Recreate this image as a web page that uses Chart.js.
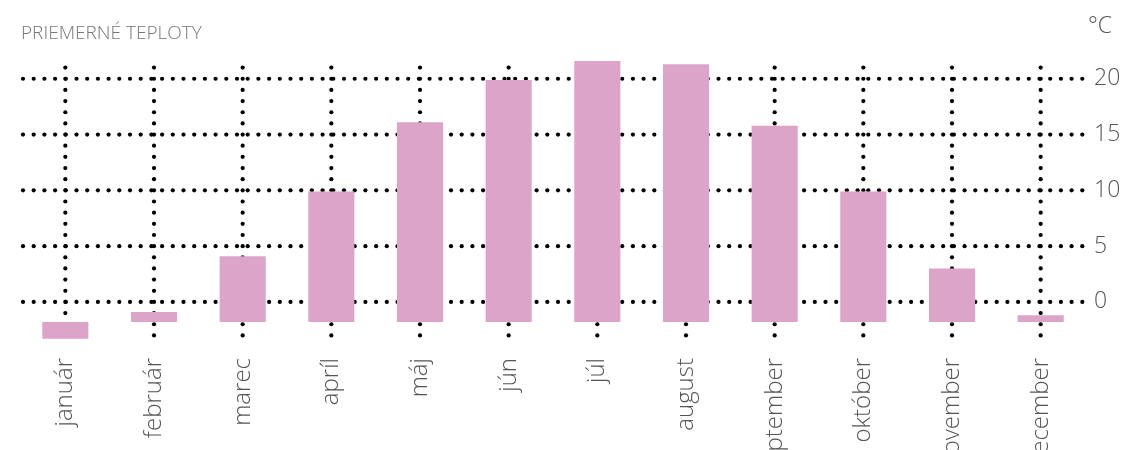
<!DOCTYPE html>
<html>
<head>
<meta charset="utf-8">
<script src="https://cdn.jsdelivr.net/npm/chart.js@4/dist/chart.umd.min.js"></script>
<style>
  body { margin: 0; background: #fff; }
  #wrap { width: 1144px; height: 450px; }
</style>
</head>
<body>
<div id="wrap"><canvas id="tempChart"></canvas></div>
<script>
// Data for the chart
const months = ["január", "február", "marec", "apríl", "máj", "jún", "júl", "august", "september", "október", "november", "december"];
const temps = [-3.3, -0.9, 4.1, 9.9, 16.1, 19.9, 21.6, 21.3, 15.8, 9.9, 3.0, -1.2]; // average °C
const barBase = -1.8; // bars hang from this level
const yTicks = [0, 5, 10, 15, 20];

// dotted grid drawn behind the bars
const dotGrid = {
  id: "dotGrid",
  beforeDatasetsDraw(chart) {
    const { ctx, chartArea: a, scales: { x, y } } = chart;
    ctx.save();
    ctx.fillStyle = "#000";
    const dot = (px, py) => { ctx.beginPath(); ctx.arc(px, py, 2.1, 0, Math.PI * 2); ctx.fill(); };
    yTicks.forEach((v) => {
      const py = y.getPixelForValue(v);
      for (let px = a.left + 2; px <= a.right; px += 10.7) dot(px, py);
    });
    const zero = y.getPixelForValue(0);
    const step = y.getPixelForValue(0) - y.getPixelForValue(1);
    months.forEach((m, i) => {
      const px = x.getPixelForTick(i);
      for (let py = zero; py >= a.top; py -= step) dot(px, py);
      for (let py = zero + step; py <= a.bottom; py += step) dot(px, py);
    });
    ctx.restore();
  },
  afterDraw(chart) {
    const { ctx } = chart;
    ctx.save();
    ctx.fillStyle = "#555";
    ctx.font = "300 23px 'Open Sans'";
    ctx.textAlign = "center";
    ctx.textBaseline = "middle";
    ctx.fillText("°C", 1100, 26);
    ctx.restore();
  },
};

const ctx = document.getElementById("tempChart").getContext("2d");
new Chart(ctx, {
  type: "bar",
  data: {
    labels: months,
    datasets: [
      {
        label: "priemerná teplota",
        data: temps,
        base: barBase,
        backgroundColor: "#dba4c8",
        barPercentage: 0.52,
        categoryPercentage: 1,
      },
    ],
  },
  options: {
    responsive: true,
    maintainAspectRatio: false,
    animation: false,
    layout: { padding: { left: 21, top: 0, right: 0, bottom: 0 } },
    plugins: {
      legend: { display: false },
      tooltip: { enabled: false },
      title: {
        display: true,
        text: "PRIEMERNÉ TEPLOTY",
        align: "start",
        color: "#777",
        font: { family: "'Open Sans'", size: 19, weight: "300" },
        padding: { top: 22, bottom: 12.2 },
      },
    },
    scales: {
      x: {
        grid: { display: false, drawTicks: false },
        border: { display: false },
        ticks: {
          autoSkip: false,
          minRotation: 90,
          maxRotation: 90,
          padding: 17,
          color: "#555",
          font: { family: "'Open Sans'", size: 24, weight: "300" },
        },
        afterFit: (scale) => { scale.height = 109; },
      },
      y: {
        position: "right",
        min: -3.5,
        max: 21.95,
        grid: { display: false, drawTicks: false },
        border: { display: false },
        afterBuildTicks: (scale) => { scale.ticks = yTicks.map((v) => ({ value: v })); },
        ticks: {
          padding: 9,
          color: "#555",
          font: { family: "'Open Sans'", size: 23, weight: "300" },
        },
        afterFit: (scale) => { scale.width = 59; },
      },
    },
  },
  plugins: [dotGrid],
});
</script>
</body>
</html>
